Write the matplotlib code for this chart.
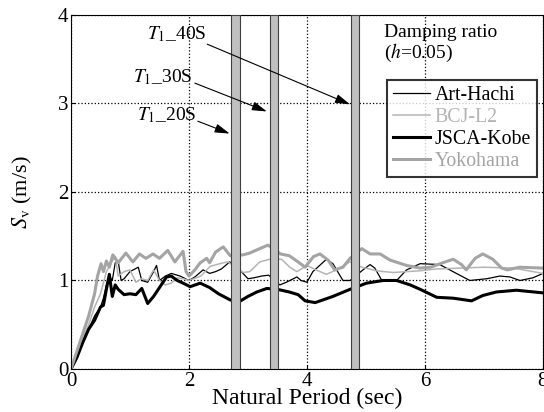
import matplotlib
matplotlib.use("Agg")
import matplotlib.pyplot as plt
import numpy as np

plt.rcParams["font.family"] = ["Liberation Serif", "DejaVu Serif"]
plt.rcParams["mathtext.fontset"] = "stix"

# velocity response spectra, h = 0.05
art_t = [0, 0.1, 0.2, 0.3, 0.4, 0.5, 0.55, 0.6, 0.65, 0.7, 0.75, 0.8, 0.85, 0.9, 1.0,
         1.14, 1.2, 1.3, 1.4, 1.45, 1.5, 1.6, 1.7, 1.85, 2.0, 2.1, 2.24, 2.35, 2.45,
         2.55, 2.69, 2.86, 3.0, 3.1, 3.23, 3.35, 3.54, 3.65, 3.83, 3.9, 4.0, 4.1,
         4.33, 4.44, 4.61, 4.73, 4.95, 5.07, 5.15, 5.27, 5.52, 5.69, 5.92, 6.25,
         6.42, 6.59, 6.76, 7.05, 7.27, 7.44, 7.61, 7.83, 8.0]
art_sv = [0, 0.12, 0.3, 0.45, 0.6, 0.7, 0.8, 0.95, 1.05, 1.0, 1.2, 1.22, 1.0, 1.02, 1.1,
          1.15, 1.0, 0.98, 1.1, 1.17, 1.0, 1.05, 1.08, 1.05, 1.0, 1.04, 1.12, 1.08, 1.1,
          1.13, 1.21, 1.12, 1.02, 1.03, 1.05, 1.06, 0.95, 0.98, 1.04, 1.0, 0.98, 1.1,
          1.24, 1.19, 1.0, 1.0, 1.12, 1.18, 1.14, 1.0, 1.0, 1.12, 1.19, 1.18,
          1.12, 1.06, 1.0, 1.02, 1.05, 1.04, 1.0, 1.03, 1.08]

bcj_t = [0, 0.1, 0.2, 0.3, 0.4, 0.5, 0.6, 0.7, 0.75, 0.8, 0.9, 1.0, 1.1, 1.2, 1.3,
         1.4, 1.5, 1.6, 1.7, 1.8, 1.9, 2.0, 2.2, 2.36, 2.58, 2.66, 2.92, 3.03, 3.2,
         3.37, 3.57, 3.71, 3.83, 4.0, 4.15, 4.33, 4.5, 4.73, 4.93, 5.18, 5.46, 5.92,
         6.2, 6.6, 7.0, 7.5, 8.0]
bcj_sv = [0, 0.15, 0.35, 0.5, 0.7, 0.85, 1.1, 1.22, 1.27, 1.05, 1.1, 1.12, 0.98, 1.02, 1.0,
          1.12, 1.0, 0.95, 0.97, 1.03, 1.02, 1.0, 1.05, 1.16, 1.2, 1.21, 1.09, 1.1, 1.21,
          1.24, 1.24, 1.15, 1.1, 1.17, 1.12, 1.07, 1.12, 1.21, 1.15, 1.11, 1.09, 1.11,
          1.13, 1.14, 1.15, 1.14, 1.08]

kobe_t = [0, 0.1, 0.2, 0.3, 0.4, 0.5, 0.55, 0.6, 0.65, 0.7, 0.75, 0.8, 0.9, 1.0, 1.1,
          1.2, 1.3, 1.4, 1.5, 1.62, 1.7, 1.8, 1.9, 2.02, 2.19, 2.35, 2.5, 2.7, 2.85,
          3.0, 3.15, 3.32, 3.5, 3.7, 3.85, 3.97, 4.14, 4.44, 4.73, 5.01, 5.29, 5.52,
          5.75, 5.92, 6.2, 6.48, 6.79, 6.98, 7.21, 7.55, 8.0]
kobe_sv = [0, 0.13, 0.3, 0.45, 0.55, 0.7, 0.72, 0.9, 1.07, 0.82, 0.95, 0.9, 0.84, 0.85, 0.84,
           0.91, 0.74, 0.82, 0.92, 1.04, 1.05, 1.0, 0.97, 0.93, 0.97, 0.92, 0.85, 0.78, 0.76,
           0.82, 0.87, 0.91, 0.9, 0.87, 0.84, 0.77, 0.75, 0.82, 0.9, 0.97, 1.0, 1.0,
           0.95, 0.9, 0.81, 0.8, 0.77, 0.83, 0.87, 0.89, 0.86]

yoko_t = [0, 0.1, 0.2, 0.3, 0.4, 0.45, 0.51, 0.55, 0.6, 0.65, 0.71, 0.8, 0.93, 1.05,
          1.16, 1.27, 1.39, 1.5, 1.64, 1.76, 1.9, 1.95, 2.0, 2.1, 2.19, 2.3, 2.35,
          2.45, 2.58, 2.7, 2.92, 3.03, 3.2, 3.34, 3.55, 3.7, 3.85, 3.97, 4.11, 4.22,
          4.36, 4.47, 4.61, 4.73, 4.93, 5.07, 5.24, 5.41, 5.69, 5.92, 6.1, 6.3, 6.48,
          6.62, 6.7, 6.85, 6.98, 7.15, 7.3, 7.4, 7.6, 8.0]
yoko_sv = [0, 0.2, 0.4, 0.6, 0.85, 1.05, 1.19, 1.1, 1.22, 1.15, 1.29, 1.2, 1.31, 1.21,
           1.3, 1.25, 1.3, 1.25, 1.34, 1.21, 1.33, 1.1, 1.05, 1.12, 1.2, 1.25, 1.2,
           1.32, 1.38, 1.28, 1.29, 1.31, 1.36, 1.4, 1.3, 1.28, 1.21, 1.15, 1.27, 1.3,
           1.23, 1.12, 1.15, 1.25, 1.36, 1.3, 1.3, 1.23, 1.17, 1.14, 1.15, 1.2, 1.24,
           1.18, 1.12, 1.25, 1.3, 1.24, 1.14, 1.12, 1.15, 1.14]

# first-mode periods of the 20/30/40-storey models
bar_periods = [2.79, 3.44, 4.81]
bar_labels = ["$T_{\\rm 1}$_20S", "$T_{\\rm 1}$_30S", "$T_{\\rm 1}$_40S"]
label_pos = [(1.12, 2.87), (1.05, 3.3), (1.29, 3.78)]
arrow_tail = [(2.15, 2.8), (2.1, 3.23), (2.31, 3.67)]
arrow_head = [(2.69, 2.66), (3.32, 2.91), (4.73, 2.99)]

fig = plt.figure(figsize=(5.44, 4.12), dpi=100)
ax = fig.add_axes([0.1305, 0.1044, 0.8675, 0.8592])

ax.plot(art_t, art_sv, color="black", lw=0.9, label="Art-Hachi")
ax.plot(bcj_t, bcj_sv, color="#b4b4b4", lw=1.1, label="BCJ-L2")
ax.plot(kobe_t, kobe_sv, color="black", lw=2.2, label="JSCA-Kobe")
ax.plot(yoko_t, yoko_sv, color="#a4a4a4", lw=2.2, label="Yokohama")

for p in bar_periods:
    ax.axvspan(p - 0.07, p + 0.07, facecolor="#c0c0c0", edgecolor="#404040",
               lw=0.8, zorder=5)

for lab, tp, tail, head in zip(bar_labels, label_pos, arrow_tail, arrow_head):
    ax.text(tp[0], tp[1], lab, fontsize=14, ha="left", va="center")
    ax.annotate("", xy=head, xytext=tail,
                arrowprops=dict(arrowstyle="-|>,head_length=0.6,head_width=0.18",
                                color="black", lw=0.8, mutation_scale=15,
                                shrinkA=0, shrinkB=0), zorder=6)

ax.text(5.3, 3.67, "Damping ratio\n($h$=0.05)", fontsize=14, ha="left", va="center",
        linespacing=1.05)

leg = ax.legend(loc="upper right", bbox_to_anchor=(0.987, 0.816), fontsize=14.3,
                frameon=True, fancybox=False, handlelength=1.9, handletextpad=0.2,
                borderpad=0.3, labelspacing=0.15, borderaxespad=0)
leg.get_frame().set_edgecolor("black")
leg.get_frame().set_linewidth(1.5)
leg.set_zorder(10)
for txt, c in zip(leg.get_texts(), ["black", "#b4b4b4", "black", "#a4a4a4"]):
    txt.set_color(c)

ax.set_xlim(0, 8)
ax.set_ylim(0, 4)
ax.set_xticks([0, 2, 4, 6, 8])
ax.set_yticks([0, 1, 2, 3, 4])
ax.grid(True, color="black", ls=":", lw=0.9)
ax.tick_params(direction="in", length=3, labelsize=15, pad=2)
ax.set_xlabel("Natural Period (sec)", fontsize=17, labelpad=-2)
ax.set_ylabel("$S_{\\rm v}$ (m/s)", fontsize=16, labelpad=17)

fig.savefig("out.png", dpi=100)
